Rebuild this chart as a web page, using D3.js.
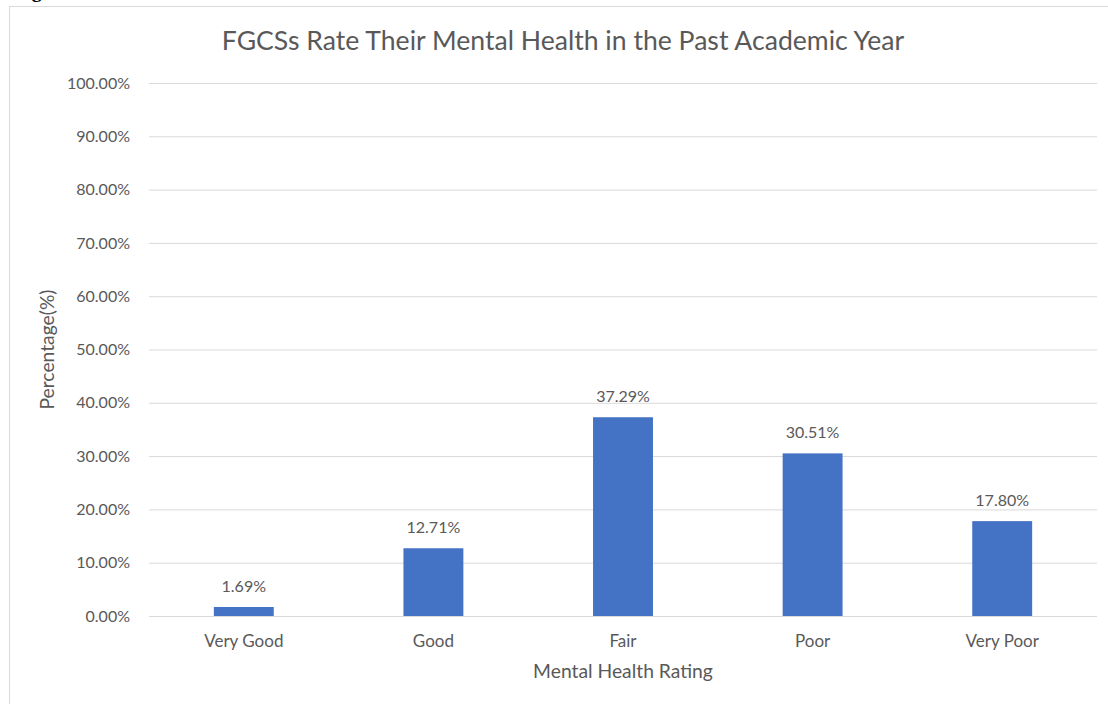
<!DOCTYPE html>
<html>
<head>
<meta charset="utf-8">
<script src="https://cdn.jsdelivr.net/npm/d3@7"></script>
<style>
html,body{margin:0;padding:0;background:#fff;}
svg{display:block;}
text{font-family:Lato,"Open Sans",sans-serif;fill:#595959;}
</style>
</head>
<body>
<svg id="chart" width="1108" height="704"></svg>
<script>
const categories = ["Very Good", "Good", "Fair", "Poor", "Very Poor"];
const values = [1.69, 12.71, 37.29, 30.51, 17.80];
const yTicks = [0, 10, 20, 30, 40, 50, 60, 70, 80, 90, 100];
const titleText = "FGCSs Rate Their Mental Health in the Past Academic Year";
const xTitle = "Mental Health Rating";
const yTitle = "Percentage(%)";

const svg = d3.select("#chart");
const W = 1108, H = 704;
const m = {left: 149, right: 11, top: 83, bottom: 88};

// cropped caption fragment at the very top
svg.append("text")
  .attr("x", 14).attr("y", -3)
  .style("font-family", "'Liberation Serif', serif")
  .style("font-weight", "bold")
  .style("font-size", "20px")
  .style("fill", "#000")
  .text("Figure 1");

// chart border
svg.append("rect")
  .attr("x", 9.5).attr("y", 6.5)
  .attr("width", 1200).attr("height", 800)
  .attr("fill", "none").attr("stroke", "#d9d9d9").attr("stroke-width", 1);

const x = d3.scaleBand().domain(categories)
  .range([m.left, W - m.right])
  .paddingInner(0.684).paddingOuter(0.342);
const y = d3.scaleLinear().domain([0, 100]).range([H - m.bottom, m.top]);

// gridlines + y tick labels
const yAxis = d3.axisLeft(y).tickValues(yTicks)
  .tickSize(-(W - m.left - m.right))
  .tickPadding(19)
  .tickFormat(d => d.toFixed(2) + "%");
const gy = svg.append("g").attr("transform", `translate(${m.left},0)`).call(yAxis);
gy.select(".domain").remove();
gy.selectAll(".tick line").attr("stroke", "#d9d9d9").attr("stroke-width", 1);
gy.selectAll(".tick text").style("font-size", "16px").style("fill", "#595959");

// bars
svg.append("g").selectAll("rect").data(values).join("rect")
  .attr("x", (d, i) => x(categories[i]))
  .attr("y", d => y(d))
  .attr("width", x.bandwidth())
  .attr("height", d => y(0) - y(d))
  .attr("fill", "#4472C4");

// value labels
svg.append("g").selectAll("text").data(values).join("text")
  .attr("x", (d, i) => x(categories[i]) + x.bandwidth() / 2)
  .attr("y", d => y(d) - 15)
  .attr("text-anchor", "middle")
  .style("font-size", "16px")
  .text(d => d.toFixed(2) + "%");

// x axis labels
const xAxis = d3.axisBottom(x).tickSize(0).tickPadding(19);
const gx = svg.append("g").attr("transform", `translate(0,${y(0)})`).call(xAxis);
gx.select(".domain").remove();
gx.selectAll(".tick text").style("font-size", "17px").style("fill", "#595959");

// titles
svg.append("text")
  .attr("x", 563).attr("y", 50)
  .attr("text-anchor", "middle")
  .style("font-size", "26.6px")
  .text(titleText);

svg.append("text")
  .attr("x", (m.left + W - m.right) / 2).attr("y", 678)
  .attr("text-anchor", "middle")
  .style("font-size", "19.3px")
  .text(xTitle);

svg.append("text")
  .attr("transform", `translate(54,${(m.top + H - m.bottom) / 2}) rotate(-90)`)
  .attr("text-anchor", "middle")
  .style("font-size", "19.3px")
  .text(yTitle);
</script>
</body>
</html>
